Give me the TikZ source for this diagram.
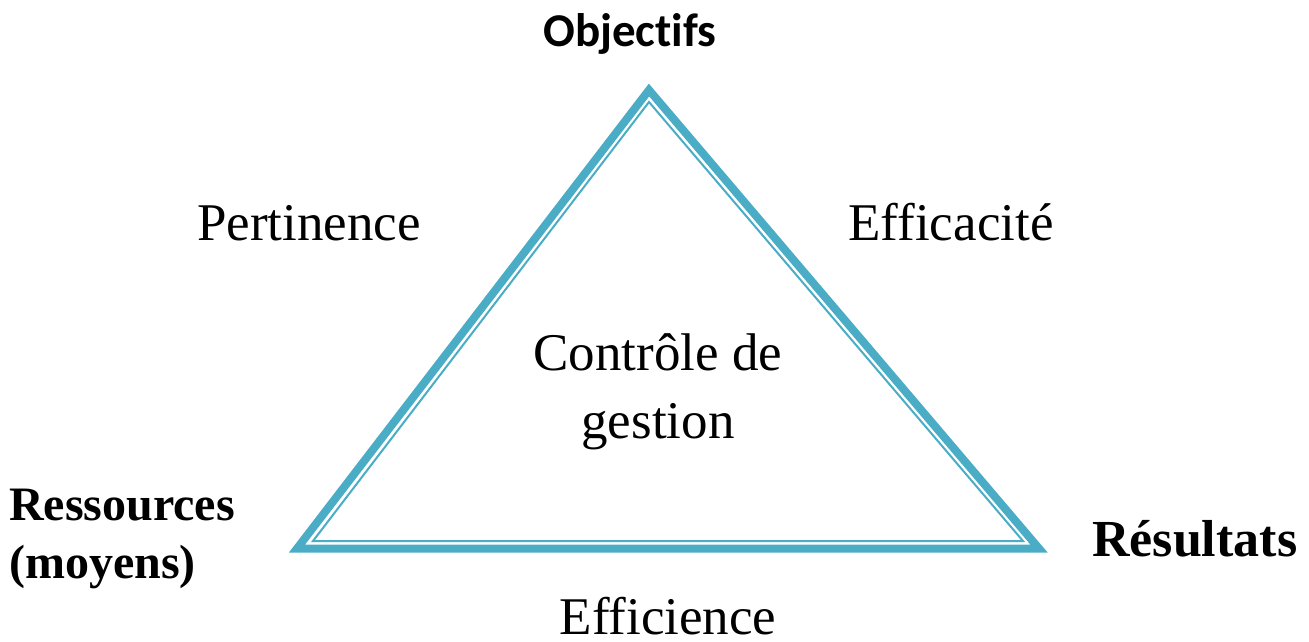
\documentclass[tikz,border=0pt]{standalone}
\usepackage{fontspec}
\setmainfont{Liberation Serif}
\newfontfamily\objfont[Ligatures=NoCommon]{Carlito}
\definecolor{aqua}{HTML}{4BACC6}

\begin{document}
\begin{tikzpicture}[x=1pt,y=-1pt,
    lbl/.style={inner sep=0pt,anchor=base,font=\fontsize{53}{62}\selectfont},
    vertex/.style={inner sep=0pt,anchor=base west,font=\fontsize{48}{58}\selectfont\bfseries}]
    \useasboundingbox (0,0) rectangle (1309,641);
    \draw[aqua,line width=8pt] (649,90) -- (1039,548.5) -- (297,548.5) -- cycle;
    \draw[aqua,line width=2pt] (649,102) -- (1023,541) -- (313,541) -- cycle;
    \node[inner sep=0pt,anchor=base,font=\objfont\fontsize{47}{56}\selectfont\bfseries] (obj) at (630,46) {Objectifs};
    \node[lbl] (pert) at (309,240) {Pertinence};
    \node[lbl] (effic) at (951,240) {Efficacité};
    \node[lbl] (ctrl) at (658,370) {Contrôle de};
    \node[lbl] (gest) at (658,438) {gestion};
    \node[vertex] (res) at (9,520) {Ressources};
    \node[vertex] (moy) at (9,578) {(moyens)};
    \node[vertex,font=\fontsize{52}{60}\selectfont\bfseries] (resu) at (1092,556) {Résultats};
    \node[lbl,text depth=0pt] (effi) at (668,634) {Efficience};
\end{tikzpicture}
\end{document}
